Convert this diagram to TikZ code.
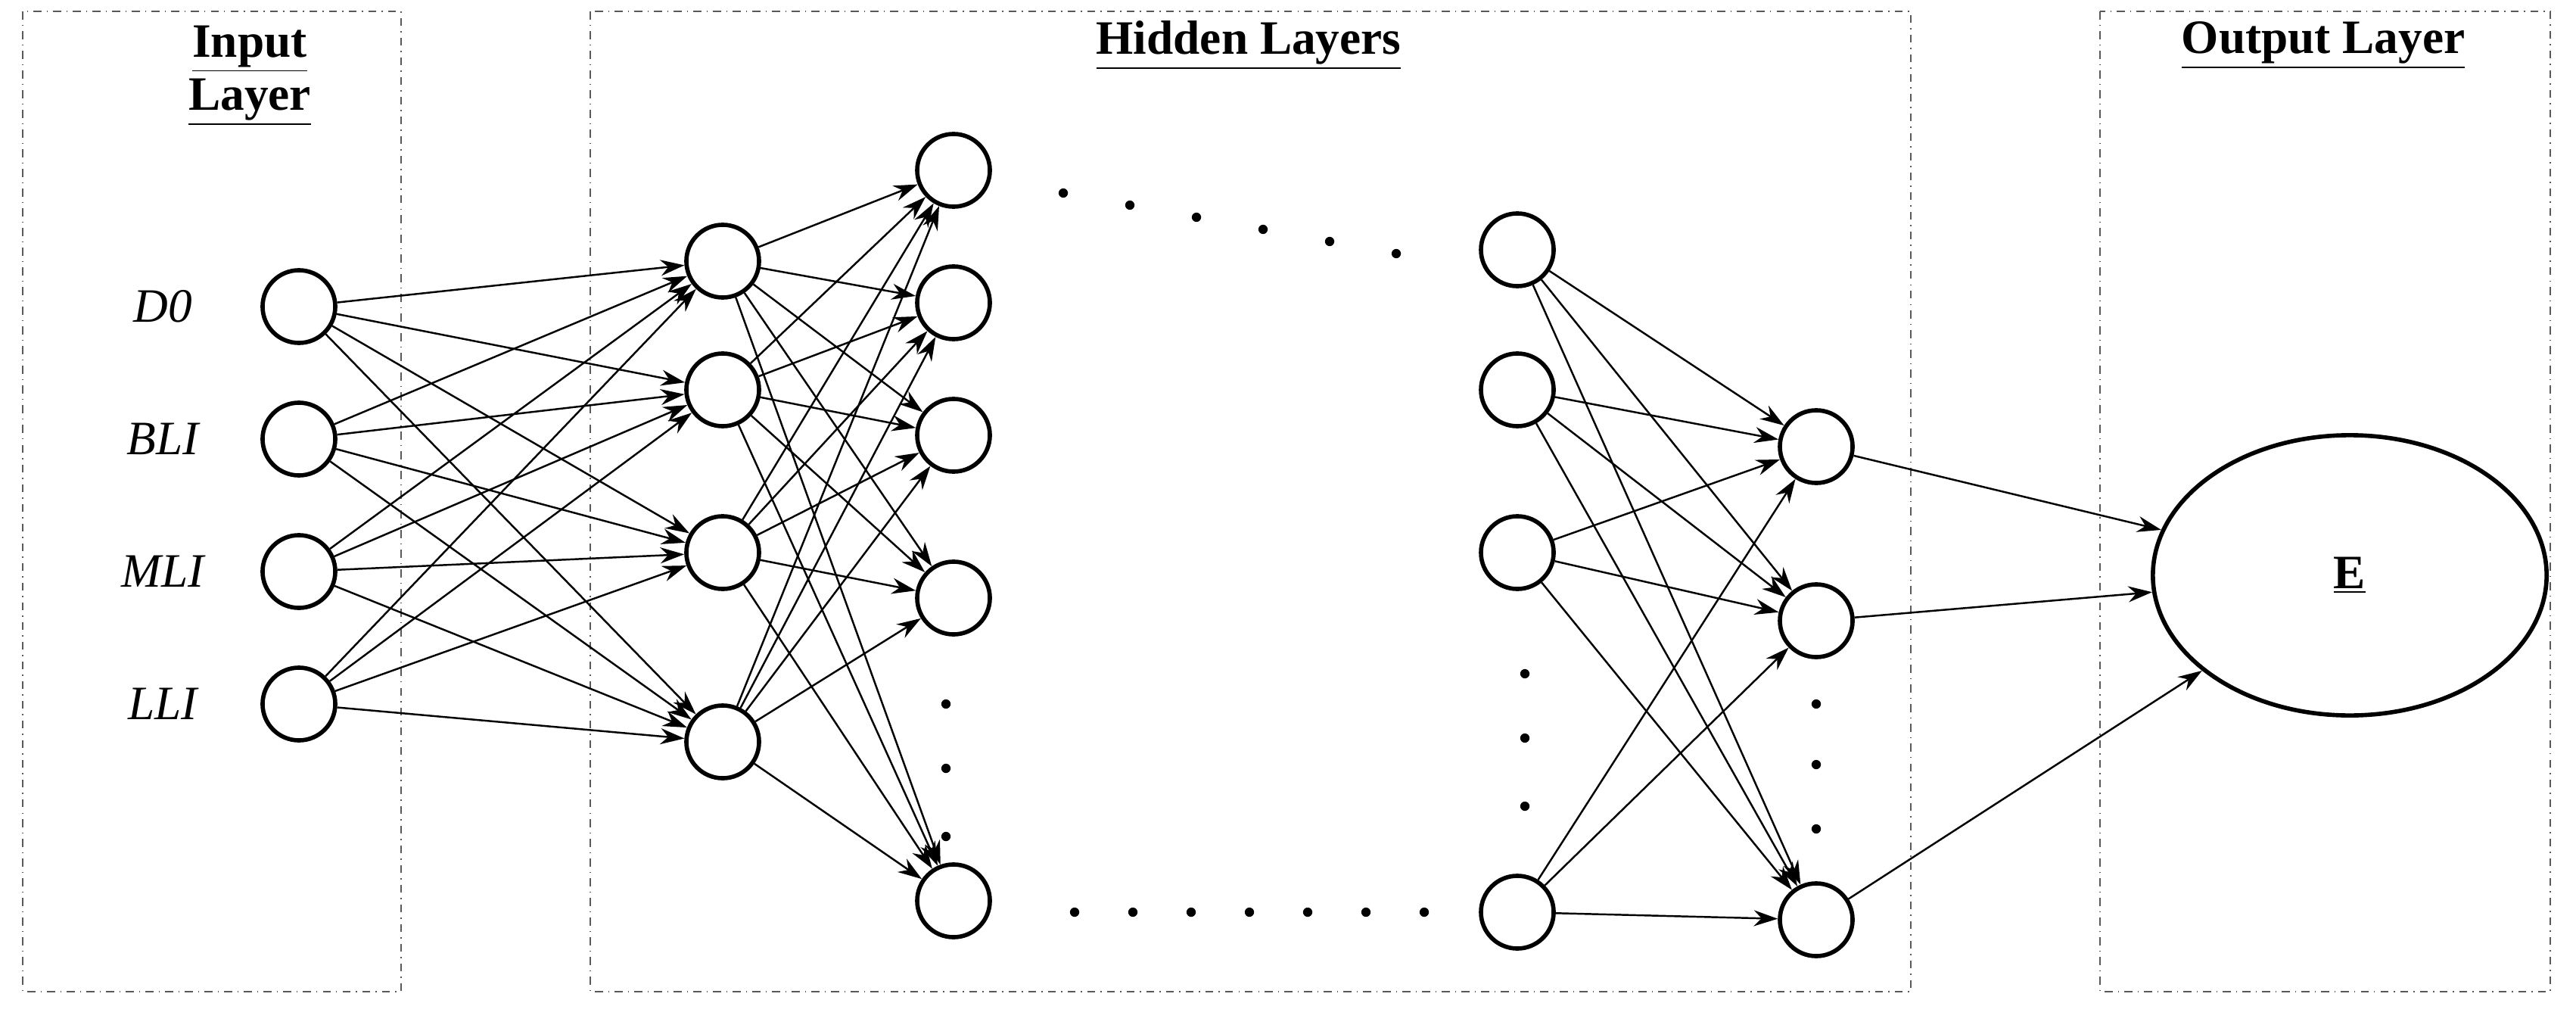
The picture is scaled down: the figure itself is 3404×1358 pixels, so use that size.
\documentclass[tikz,border=0pt]{standalone}
\usepackage{fontspec}
\setmainfont{Liberation Serif}
\usetikzlibrary{arrows.meta,shapes.geometric}
\begin{document}
\begin{tikzpicture}[x=0.01cm,y=-0.01cm,
  neu/.style={circle,draw,line width=1.6pt,minimum size=0.96cm,inner sep=0pt},
  box/.style={draw,dash dot,line width=0.6pt,gray!70!black},
  con/.style={-{Stealth[length=9pt,width=6pt]},line width=0.7pt},
  ttl/.style={font=\fontsize{18}{22}\selectfont\bfseries,align=center},
  lbl/.style={font=\fontsize{18}{22}\selectfont\itshape},
  dt/.style={circle,fill,inner sep=0pt,minimum size=3.5pt}]
\useasboundingbox (0,0) rectangle (3404,1358);
\draw[box] (30,15) rectangle (530,1310);
\draw[box] (780,15) rectangle (2525,1310);
\draw[box] (2775,15) rectangle (3370,1310);
\node[ttl] (t1) at (330,100) {\underline{Input}\\[-2pt]\underline{Layer}};
\node[ttl] (t2) at (1650,60) {\underline{Hidden Layers}};
\node[ttl] (t3) at (3070,60) {\underline{Output Layer}};
\foreach \y/\t [count=\i] in {405/D0,580/BLI,755/MLI,930/LLI}{
  \node[neu] (a\i) at (395,\y) {};
  \node[lbl] (la\i) at (215,\y) {\t};}
\foreach \y [count=\i] in {345,515,730,980}{\node[neu] (b\i) at (955,\y) {};}
\foreach \y [count=\i] in {225,400,575,790,1190}{\node[neu] (c\i) at (1260,\y) {};}
\foreach \y [count=\i] in {330,515,730,1205}{\node[neu] (d\i) at (2005,\y) {};}
\foreach \y [count=\i] in {590,820,1215}{\node[neu] (e\i) at (2400,\y) {};}
\node[ellipse,draw,line width=1.6pt,minimum width=5.2cm,minimum height=3.7cm] (E) at (3105,760) {\fontsize{18}{22}\selectfont\bfseries\underline{E}};
\foreach \i in {1,...,4}\foreach \j in {1,...,4}{\draw[con] (a\i) -- (b\j);}
\foreach \i in {1,...,4}\foreach \j in {1,...,5}{\draw[con] (b\i) -- (c\j);}
\foreach \i in {1,...,4}\foreach \j in {1,...,3}{\draw[con] (d\i) -- (e\j);}
\foreach \i in {1,...,3}{\draw[con] (e\i) -- (E);}
\foreach \k in {0,...,5}{\node[dt] (p\k) at (1405+\k*88,255+\k*16) {};}
\foreach \k in {0,...,6}{\node[dt] (q\k) at (1420+\k*77,1205) {};}
\foreach \y [count=\k] in {930,1015,1105}{\node[dt] (r\k) at (1250,\y) {};}
\foreach \y [count=\k] in {890,975,1065}{\node[dt] (s\k) at (2015,\y) {};}
\foreach \y [count=\k] in {930,1010,1095}{\node[dt] (u\k) at (2400,\y) {};}
\end{tikzpicture}
\end{document}
